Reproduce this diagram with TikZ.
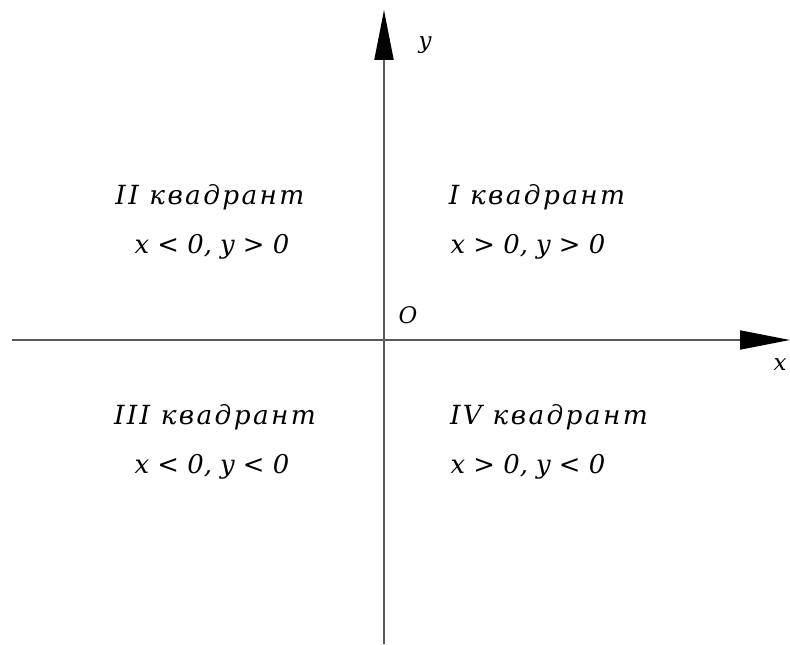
\documentclass[tikz,border=0pt]{standalone}
\usepackage{fontspec}
\setmainfont{DejaVu Serif}
\usetikzlibrary{arrows.meta}

\tikzset{
  axis/.style={line width=1.1pt, draw=black!65, -{Triangle[length=1cm,width=0.38cm,color=black]}},
  quad/.style={font=\fontsize{15}{17}\selectfont\itshape\addfontfeature{LetterSpace=9}, inner sep=0pt},
  cond/.style={font=\fontsize{14.7}{17}\selectfont\itshape, inner sep=0pt},
  lbl/.style={font=\fontsize{13}{15}\selectfont\itshape, inner sep=0pt}
}

\begin{document}
\begin{tikzpicture}
\useasboundingbox (-7.68,-6.08) rectangle (8.12,6.8);
\coordinate (xs) at (-7.44,0);
\coordinate (xe) at (8.12,0);
\coordinate (ys) at (0,-6.08);
\coordinate (ye) at (0,6.6);
\draw[axis] (xs) -- (xe);
\draw[axis] (ys) -- (ye);
\node[lbl] (xl) at (7.92,-0.5) {x};
\node[lbl] (yl) at (0.82,5.9) {y};
\node[lbl] (o) at (0.48,0.5) {O};
% quadrants
\node[quad] (q2) at (-3.48,2.86) {II квадрант};
\node[cond] (c2) at (-3.44,1.86) {x < 0, y > 0};
\node[quad] (q1) at (3.06,2.86) {I квадрант};
\node[cond] (c1) at (2.88,1.86) {x > 0, y > 0};
\node[quad] (q3) at (-3.38,-1.54) {III квадрант};
\node[cond] (c3) at (-3.44,-2.54) {x < 0, y < 0};
\node[quad] (q4) at (3.3,-1.54) {IV квадрант};
\node[cond] (c4) at (2.88,-2.54) {x > 0, y < 0};
\end{tikzpicture}
\end{document}
